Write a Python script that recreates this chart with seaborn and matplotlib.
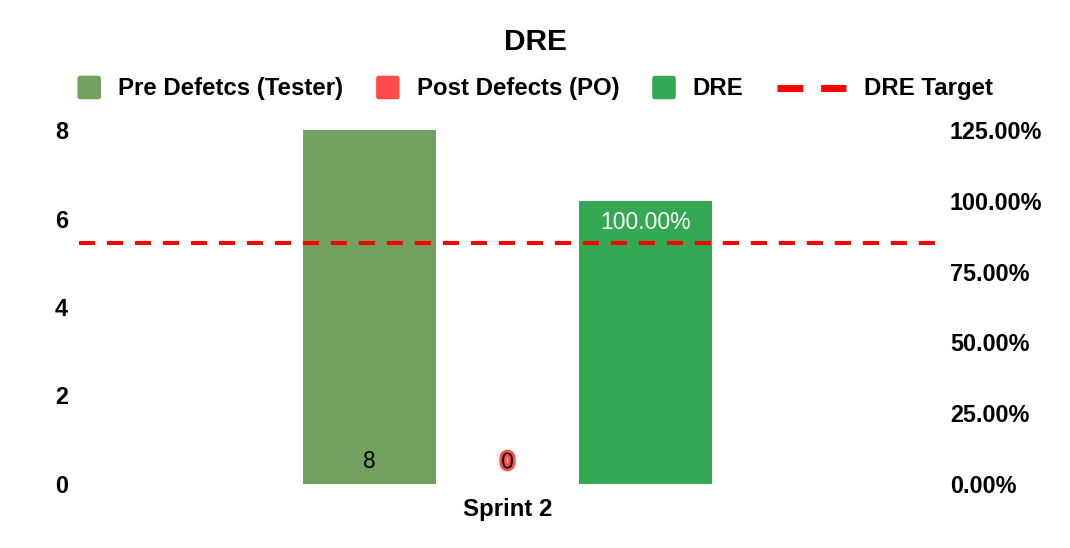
import numpy as np
import pandas as pd
import matplotlib
matplotlib.use("Agg")
import matplotlib.pyplot as plt
import matplotlib.patheffects as pe
from matplotlib.patches import FancyBboxPatch
from matplotlib.lines import Line2D
from matplotlib.transforms import IdentityTransform
from matplotlib.ticker import PercentFormatter
import seaborn as sea

# data
sprints = ['Sprint 2']
pre_defects = [8]
post_defects = [0]
dre = [1.0]
dre_target = 0.85
series = ['Pre Defetcs (Tester)', 'Post Defects (PO)', 'DRE']
colors = {'Pre Defetcs (Tester)': '#71a05f', 'Post Defects (PO)': '#ff4b4b', 'DRE': '#34a853'}

sea.set_style('white')
plt.rcParams['font.family'] = ['Liberation Sans', 'DejaVu Sans']
plt.rcParams['text.color'] = 'black'

W, H = 1070, 548
fig = plt.figure(figsize=(W / 100, H / 100), dpi=100)
ax = fig.add_axes([79 / W, 1 - 484 / H, (936 - 79) / W, (484 - 130) / H])
ax2 = ax.twinx()

left = pd.DataFrame({'sprint': sprints * 2,
                     'series': [series[0]] * len(sprints) + [series[1]] * len(sprints),
                     'value': pre_defects + post_defects})
right = pd.DataFrame({'sprint': sprints, 'series': [series[2]] * len(sprints), 'value': dre})

bar_kw = dict(x='sprint', y='value', hue='series', hue_order=series, palette=colors,
              width=0.483, gap=0.036, linewidth=0, legend=False, errorbar=None,
              dodge=True, saturation=1)
sea.barplot(data=left, ax=ax, **bar_kw)
sea.barplot(data=right, ax=ax2, **bar_kw)

ax.set_xlim(-0.5, 0.5)
ax.set_ylim(0, 8)
ax.set_yticks([0, 2, 4, 6, 8])
ax2.set_ylim(0, 1.25)
ax2.set_yticks(np.arange(0, 1.26, 0.25))
ax2.yaxis.set_major_formatter(PercentFormatter(1, decimals=2))

ax2.axhline(dre_target, color='#ff0000', lw=2.9, dashes=(4, 2.95), zorder=3)

# bar labels
pre_bars = [b for c in ax.containers for b in c][:len(sprints)]
post_bars = [b for c in ax.containers for b in c][len(sprints):2 * len(sprints)]
dre_bars = [b for c in ax2.containers for b in c]
for bar, val in zip(pre_bars, pre_defects):
    ax.annotate(f'{val}', xy=(bar.get_x() + bar.get_width() / 2, 0), xytext=(0, 16),
                textcoords='offset points', ha='center', va='center', fontsize=16.3, color='black')
for bar, val in zip(post_bars, post_defects):
    ax.annotate(f'{val}', xy=(bar.get_x() + bar.get_width() / 2, 0), xytext=(0, 16),
                textcoords='offset points', ha='center', va='center', fontsize=16.3, color='black',
                path_effects=[pe.withStroke(linewidth=4, foreground='#ff4b4b')])
for bar, val in zip(dre_bars, dre):
    ax2.annotate(f'{val * 100:.2f}%', xy=(bar.get_x() + bar.get_width() / 2, val), xytext=(0, -15.5),
                 textcoords='offset points', ha='center', va='center', fontsize=16.5, color='white',
                 zorder=4)

for a in (ax, ax2):
    for s in a.spines.values():
        s.set_visible(False)
    a.set_xlabel('')
    a.set_ylabel('')
    a.tick_params(length=0, labelsize=16.8, labelcolor='black')
    for lab in a.get_yticklabels() + a.get_xticklabels():
        lab.set_fontweight('bold')
ax.tick_params(axis='x', labelsize=17.3, pad=10)
ax.tick_params(axis='y', pad=8)
ax2.tick_params(axis='y', pad=10)
ax.grid(False)
ax2.grid(False)

# title
fig.text(0.5, 1 - 50 / H, 'DRE', ha='center', va='baseline', fontsize=21.5, fontweight='bold')

# legend row
renderer = fig.canvas.get_renderer()
entries = [('box', colors[series[0]], series[0]), ('box', colors[series[1]], series[1]),
           ('box', colors[series[2]], series[2]), ('line', '#ff0000', 'DRE Target')]
widths = []
for kind, c, lab in entries:
    t = fig.text(0, 0, lab, fontsize=17.3, fontweight='bold')
    tw = t.get_window_extent(renderer).width
    t.remove()
    widths.append((23.5 + 17 if kind == 'box' else 69 + 18) + tw)
total = sum(widths) + 33 * (len(entries) - 1)
x = (W - total) / 2
yc = H - 87.5
for (kind, c, lab), w in zip(entries, widths):
    if kind == 'box':
        p = FancyBboxPatch((x, yc - 11.75), 23.5, 23.5, boxstyle='round,pad=0,rounding_size=2.5',
                           facecolor=c, edgecolor='none', transform=IdentityTransform())
        fig.patches.append(p)
        tx = x + 23.5 + 17
    else:
        ln = Line2D([x, x + 69], [yc, yc], color=c, lw=5, dashes=(26 / 7, 18 / 7),
                    transform=IdentityTransform())
        fig.lines.append(ln)
        tx = x + 69 + 18
    fig.text(tx / W, (yc - 7.8) / H, lab, ha='left', va='baseline', fontsize=17.3, fontweight='bold')
    x += w + 33

fig.savefig('out.png', dpi=100)
